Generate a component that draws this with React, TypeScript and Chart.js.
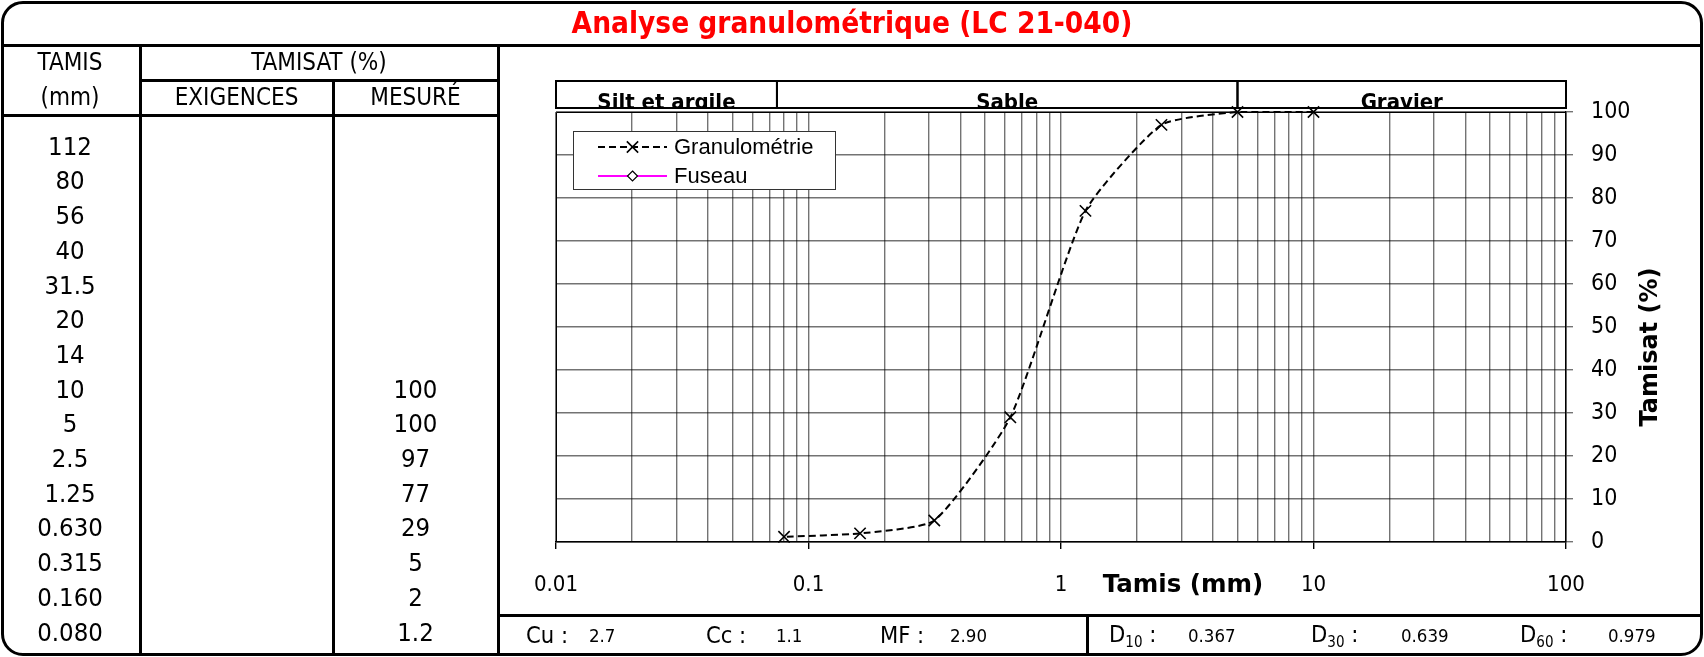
import React, { useEffect, useRef } from 'react';
import { Chart, registerables } from 'chart.js';
Chart.register(...registerables);

const FONT = '"DejaVu Sans Condensed", "DejaVu Sans", sans-serif';
const FONT_WIDE = '"DejaVu Sans", sans-serif';
const FONT_LEGEND = '"Liberation Sans", Arial, sans-serif';

// ---- data ----
const titleText = 'Analyse granulométrique (LC 21-040)';
const tableSieves = ['112', '80', '56', '40', '31.5', '20', '14', '10', '5', '2.5', '1.25', '0.630', '0.315', '0.160', '0.080'];
const tableExigences = ['', '', '', '', '', '', '', '', '', '', '', '', '', '', ''];
const tableMesure = ['', '', '', '', '', '', '', '100', '100', '97', '77', '29', '5', '2', '1.2'];

const gradSieves = [10, 5, 2.5, 1.25, 0.63, 0.315, 0.16, 0.08];
const gradPassing = [100, 100, 97, 77, 29, 5, 2, 1.2];
const fuseauSieves: number[] = [];
const fuseauPassing: number[] = [];

const xDecades = [0.01, 0.1, 1, 10, 100];
const xDecadeLabels = ['0.01', '0.1', '1', '10', '100'];
const yMin = 0;
const yMax = 100;
const yStep = 10;

const bandLabels = ['Silt et argile', 'Sable', 'Gravier'];
const bandEdges = [0.01, 0.075, 5, 100];

const statLabels = ['Cu', 'Cc', 'MF'];
const statValues = ['2.7', '1.1', '2.90'];
const dSubs = ['10', '30', '60'];
const dValues = ['0.367', '0.639', '0.979'];

// ---- layout constants ----
const W = 1704;
const H = 657;
const PLOT_L = 556;
const PLOT_R = 1566;
const PLOT_T = 112;
const PLOT_B = 542;
const Y_AXIS_W = 80;
const X_AXIS_H = 60;
const GRID = 'rgba(0,0,0,0.55)';

function gridTicks(): number[] {
  const out: number[] = [];
  for (let i = 0; i < xDecades.length - 1; i++) {
    for (let k = 1; k <= 9; k++) out.push(xDecades[i] * k);
  }
  out.push(xDecades[xDecades.length - 1]);
  return out;
}
function decadeIndex(v: number): number {
  for (let i = 0; i < xDecades.length; i++) {
    if (Math.abs(Math.log10(v) - Math.log10(xDecades[i])) < 1e-6) return i;
  }
  return -1;
}

const overlayPlugin = {
  id: 'overlay',
  afterDraw(chart: any) {
    const ctx = chart.ctx as CanvasRenderingContext2D;
    const area = chart.chartArea;
    const xs = chart.scales.x;
    ctx.save();
    // plot frame (top & left)
    ctx.strokeStyle = '#000';
    ctx.lineWidth = 1;
    ctx.beginPath();
    ctx.moveTo(Math.round(area.left) + 0.5, Math.round(area.bottom));
    ctx.lineTo(Math.round(area.left) + 0.5, Math.round(area.top) + 0.5);
    ctx.lineTo(Math.round(area.right), Math.round(area.top) + 0.5);
    ctx.stroke();

    // bands
    const bTop = area.top - 31;
    const bBot = area.top - 4;
    ctx.lineWidth = 2;
    for (let i = 0; i < bandLabels.length; i++) {
      const x0 = xs.getPixelForValue(bandEdges[i]);
      const x1 = xs.getPixelForValue(bandEdges[i + 1]);
      ctx.save();
      ctx.beginPath();
      ctx.rect(x0, bTop, x1 - x0, bBot - bTop);
      ctx.clip();
      ctx.fillStyle = '#000';
      ctx.font = `bold 22px ${FONT}`;
      ctx.textAlign = 'center';
      ctx.textBaseline = 'alphabetic';
      ctx.fillText(bandLabels[i], (x0 + x1) / 2, bBot + 1);
      ctx.restore();
      ctx.strokeStyle = '#000';
      ctx.strokeRect(x0, bTop, x1 - x0, bBot - bTop);
    }

    // legend
    const lx = area.left + 17;
    const ly = area.top + 19;
    const lw = 262;
    const lh = 58;
    ctx.fillStyle = '#fff';
    ctx.fillRect(lx, ly, lw, lh);
    ctx.lineWidth = 1;
    ctx.strokeStyle = '#333';
    ctx.strokeRect(lx + 0.5, ly + 0.5, lw, lh);
    chart.data.datasets.forEach((ds: any, i: number) => {
      const y = ly + 16 + i * 29;
      const sx0 = lx + 25;
      const sx1 = lx + 94;
      const mx = (sx0 + sx1) / 2;
      ctx.save();
      ctx.strokeStyle = ds.borderColor;
      ctx.lineWidth = ds.borderWidth;
      ctx.setLineDash(ds.borderDash || []);
      ctx.beginPath();
      ctx.moveTo(sx0, y);
      ctx.lineTo(sx1, y);
      ctx.stroke();
      ctx.setLineDash([]);
      ctx.strokeStyle = ds.pointBorderColor;
      ctx.lineWidth = ds.pointBorderWidth;
      const r = ds.pointRadius;
      if (ds.pointStyle === 'crossRot') {
        const d = r * Math.SQRT1_2;
        ctx.beginPath();
        ctx.moveTo(mx - d, y - d);
        ctx.lineTo(mx + d, y + d);
        ctx.moveTo(mx + d, y - d);
        ctx.lineTo(mx - d, y + d);
        ctx.stroke();
      } else {
        ctx.fillStyle = ds.pointBackgroundColor;
        ctx.beginPath();
        ctx.moveTo(mx, y - r);
        ctx.lineTo(mx + r, y);
        ctx.lineTo(mx, y + r);
        ctx.lineTo(mx - r, y);
        ctx.closePath();
        ctx.fill();
        ctx.stroke();
      }
      ctx.fillStyle = '#000';
      ctx.font = `22px ${FONT_LEGEND}`;
      ctx.textAlign = 'left';
      ctx.textBaseline = 'middle';
      ctx.fillText(ds.label, lx + 101, y + 1);
      ctx.restore();
    });
    ctx.restore();
  },
};

type TP = { x: number; y: number; size: number; bold?: boolean; color?: string; align?: 'center' | 'left'; family?: string; children: React.ReactNode };
function T({ x, y, size, bold, color, align = 'center', family, children }: TP) {
  return (
    <div
      style={{
        position: 'absolute',
        left: x,
        top: y,
        transform: align === 'center' ? 'translate(-50%, -50%)' : 'translate(0, -50%)',
        fontSize: size,
        fontWeight: bold ? 'bold' : 'normal',
        color: color || '#000',
        fontFamily: family || FONT,
        whiteSpace: 'nowrap',
        lineHeight: 1,
      }}
    >
      {children}
    </div>
  );
}
function L({ x, y, w, h }: { x: number; y: number; w: number; h: number }) {
  return <div style={{ position: 'absolute', left: x, top: y, width: w, height: h, background: '#000' }} />;
}

export default function App() {
  const canvasRef = useRef<HTMLCanvasElement>(null);

  useEffect(() => {
    const canvas = canvasRef.current;
    if (!canvas) return;
    const ticks = gridTicks();
    const chart = new Chart(canvas, {
      type: 'line',
      data: {
        datasets: [
          {
            label: 'Granulométrie',
            data: gradSieves.map((s, i) => ({ x: s, y: gradPassing[i] })),
            borderColor: '#000',
            borderWidth: 2,
            borderDash: [7, 4],
            pointStyle: 'crossRot',
            pointRadius: 8,
            pointBorderColor: '#000',
            pointBackgroundColor: '#000',
            pointBorderWidth: 1.6,
            tension: 0.18,
            fill: false,
            clip: false,
          } as any,
          {
            label: 'Fuseau',
            data: fuseauSieves.map((s, i) => ({ x: s, y: fuseauPassing[i] })),
            borderColor: '#FF00FF',
            borderWidth: 2,
            pointStyle: 'rectRot',
            pointRadius: 5,
            pointBorderColor: '#000',
            pointBackgroundColor: '#fff',
            pointBorderWidth: 1.2,
            fill: false,
          } as any,
        ],
      },
      options: {
        animation: false,
        responsive: false,
        maintainAspectRatio: false,
        events: [],
        layout: {
          padding: {
            left: PLOT_L,
            top: PLOT_T,
            right: W - PLOT_R - Y_AXIS_W,
            bottom: H - PLOT_B - X_AXIS_H,
          },
        },
        scales: {
          x: {
            type: 'logarithmic',
            position: 'bottom',
            min: xDecades[0],
            max: xDecades[xDecades.length - 1],
            afterBuildTicks: (scale: any) => {
              scale.ticks = ticks.map((v) => ({ value: v }));
            },
            afterFit: (scale: any) => {
              scale.height = X_AXIS_H;
            },
            ticks: {
              autoSkip: false,
              maxRotation: 0,
              minRotation: 0,
              padding: 23,
              color: '#000',
              font: { family: FONT, size: 22 },
              callback: (v: any) => {
                const i = decadeIndex(Number(v));
                return i >= 0 ? xDecadeLabels[i] : '';
              },
            },
            grid: {
              color: GRID,
              lineWidth: 1.4,
              tickLength: 7,
              tickColor: (c: any) => (c.tick && decadeIndex(c.tick.value) >= 0 ? '#000' : 'rgba(0,0,0,0)'),
            },
            border: { display: true, color: '#000', width: 1.5 },
          },
          y: {
            type: 'linear',
            position: 'right',
            min: yMin,
            max: yMax,
            afterFit: (scale: any) => {
              scale.width = Y_AXIS_W;
            },
            ticks: {
              stepSize: yStep,
              padding: 18,
              color: '#000',
              font: { family: FONT, size: 23 },
            },
            grid: {
              color: GRID,
              lineWidth: 1.4,
              tickLength: 7,
              tickColor: GRID,
            },
            border: { display: true, color: '#000', width: 1.5 },
          },
        },
        plugins: {
          legend: { display: false },
          tooltip: { enabled: false },
        },
      } as any,
      plugins: [overlayPlugin],
    });
    return () => chart.destroy();
  }, []);

  const rowY0 = 146.7;
  const rowDy = 34.7;
  const statLabelX = [526, 706, 880];
  const statValueX = [589, 776, 950];
  const dLabelX = [1109, 1311, 1520];
  const dValueX = [1188, 1401, 1608];
  const statY = 636;

  return (
    <div style={{ position: 'absolute', left: 0, top: 0, width: W, height: H, background: '#fff', overflow: 'hidden', fontFamily: FONT, color: '#000' }}>
      <canvas ref={canvasRef} width={W} height={H} style={{ position: 'absolute', left: 0, top: 0, width: W, height: H }} />
      {/* frame and table lines */}
      <div style={{ position: 'absolute', left: 1, top: 1, width: 1702, height: 655, border: '3px solid #000', borderRadius: 22, boxSizing: 'border-box' }} />
      <L x={1} y={44} w={1702} h={3} />
      <L x={139} y={45} w={3} h={611} />
      <L x={332} y={80} w={3} h={576} />
      <L x={497} y={45} w={3} h={611} />
      <L x={140} y={79} w={358} h={3} />
      <L x={1} y={114} w={498} h={3} />
      <L x={498} y={614} w={1205} h={3} />
      <L x={1086} y={615} w={3} h={41} />

      <T x={852} y={24} size={29.5} bold color="#FF0000">{titleText}</T>

      <T x={70} y={62} size={24}>TAMIS</T>
      <T x={70} y={97} size={24}>(mm)</T>
      <T x={319} y={62} size={24}>TAMISAT (%)</T>
      <T x={236.5} y={97} size={24}>EXIGENCES</T>
      <T x={415.5} y={97} size={24}>MESURÉ</T>

      {tableSieves.map((s, i) => (
        <T key={'s' + i} x={70} y={rowY0 + i * rowDy} size={25.5}>{s}</T>
      ))}
      {tableExigences.map((s, i) => (s ? <T key={'e' + i} x={236.5} y={rowY0 + i * rowDy} size={25.5}>{s}</T> : null))}
      {tableMesure.map((s, i) => (s ? <T key={'m' + i} x={415.5} y={rowY0 + i * rowDy} size={25.5}>{s}</T> : null))}

      <T x={1183} y={584} size={24.5} bold family={FONT_WIDE}>Tamis (mm)</T>
      <div
        style={{
          position: 'absolute',
          left: 1649,
          top: 347,
          transform: 'translate(-50%, -50%) rotate(-90deg)',
          fontSize: 24,
          fontWeight: 'bold',
          fontFamily: FONT_WIDE,
          whiteSpace: 'nowrap',
          lineHeight: 1,
        }}
      >
        Tamisat (%)
      </div>

      {statLabels.map((s, i) => (
        <T key={'sl' + i} x={statLabelX[i]} y={statY} size={23.5} align="left">{s + ' :'}</T>
      ))}
      {statValues.map((s, i) => (
        <T key={'sv' + i} x={statValueX[i]} y={statY} size={18.5} align="left">{s}</T>
      ))}
      {dSubs.map((s, i) => (
        <T key={'dl' + i} x={dLabelX[i]} y={statY} size={23.5} align="left">
          D<sub style={{ fontSize: 15, verticalAlign: -5 }}>{s}</sub> :
        </T>
      ))}
      {dValues.map((s, i) => (
        <T key={'dv' + i} x={dValueX[i]} y={statY} size={18.5} align="left">{s}</T>
      ))}
    </div>
  );
}
